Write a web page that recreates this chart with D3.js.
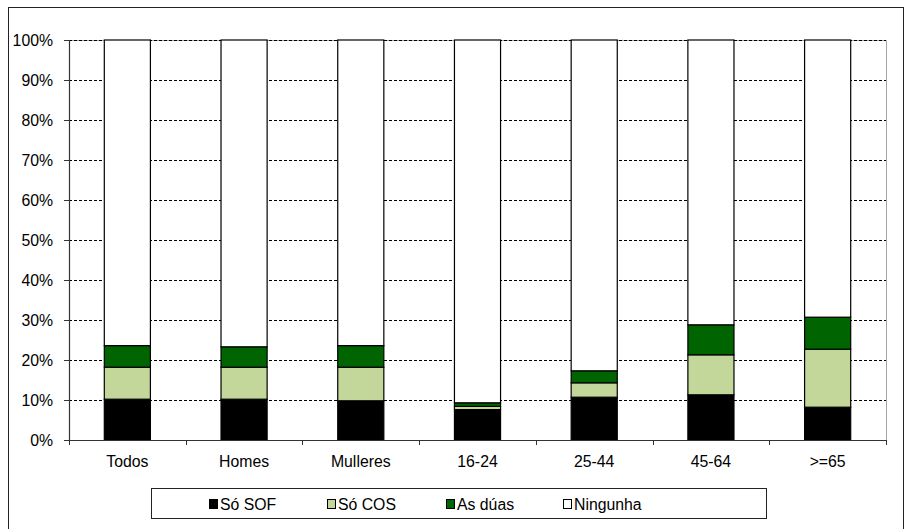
<!DOCTYPE html>
<html>
<head>
<meta charset="utf-8">
<script src="https://cdn.jsdelivr.net/npm/d3@7"></script>
<style>
  html, body { margin: 0; padding: 0; background: #fff; }
  svg { display: block; }
  text { font-family: "Liberation Sans", Arial, sans-serif; fill: #000; }
</style>
</head>
<body>
<svg id="chart" width="906" height="529"></svg>
<script>
// Population groups along the x axis
const categories = ["Todos", "Homes", "Mulleres", "16-24", "25-44", "45-64", ">=65"];

// Shares (%) per group for each answer
const soSOF    = [10.2, 10.2, 9.8, 7.6, 10.7, 11.3, 8.2];
const soCOS    = [8.0, 8.0, 8.4, 0.8, 3.6, 10.0, 14.5];
const asDuas   = [5.4, 5.1, 5.4, 0.9, 3.0, 7.5, 8.0];
const ningunha = [76.4, 76.7, 76.4, 90.7, 82.7, 71.2, 69.3];

const seriesNames = ["Só SOF", "Só COS", "As dúas", "Ningunha"];
const seriesColors = ["#000000", "#c4d79b", "#006400", "#ffffff"];
const yTicks = [0, 10, 20, 30, 40, 50, 60, 70, 80, 90, 100];

const rows = categories.map((c, i) => ({
  cat: c,
  "Só SOF": soSOF[i],
  "Só COS": soCOS[i],
  "As dúas": asDuas[i],
  "Ningunha": ningunha[i]
}));

const svg = d3.select("#chart");
const plot = { left: 69, top: 40, right: 886, bottom: 440 };

// Outer frame
svg.append("rect")
  .attr("x", 8.5).attr("y", 7.5)
  .attr("width", 895).attr("height", 540)
  .attr("fill", "none").attr("stroke", "#222").attr("stroke-width", 1);

const x = d3.scaleBand()
  .domain(categories)
  .range([plot.left, plot.right])
  .paddingInner(0.605)
  .paddingOuter(0.3025);

const y = d3.scaleLinear().domain([0, 100]).range([plot.bottom, plot.top]);

// Plot area border (top and right)
svg.append("path")
  .attr("d", `M${plot.left},${plot.top + 0.5}H${plot.right + 0.5}V${plot.bottom}`)
  .attr("fill", "none").attr("stroke", "#a6a6a6").attr("stroke-width", 1);

// Dashed gridlines
svg.append("g")
  .selectAll("line")
  .data(yTicks.filter(t => t > 0))
  .join("line")
  .attr("x1", plot.left).attr("x2", plot.right)
  .attr("y1", d => Math.round(y(d)) + 0.5).attr("y2", d => Math.round(y(d)) + 0.5)
  .attr("stroke", "#000").attr("stroke-width", 1)
  .attr("stroke-dasharray", "3,2");

// Stacked bars
const stack = d3.stack().keys(seriesNames);
const layers = stack(rows);

svg.append("g")
  .selectAll("g")
  .data(layers)
  .join("g")
  .attr("fill", (d, i) => seriesColors[i])
  .selectAll("rect")
  .data(d => d)
  .join("rect")
  .attr("x", d => x(d.data.cat))
  .attr("width", x.bandwidth())
  .attr("y", d => y(d[1]))
  .attr("height", d => y(d[0]) - y(d[1]))
  .attr("stroke", "#000")
  .attr("stroke-width", 1.2);

// Y axis
const yAxis = d3.axisLeft(y)
  .tickValues(yTicks)
  .tickFormat(d => d + "%")
  .tickSize(5)
  .tickPadding(11);

const gy = svg.append("g")
  .attr("transform", `translate(${plot.left},0)`)
  .call(yAxis);
gy.select(".domain").attr("stroke", "#333").attr("stroke-width", 1.2);
gy.selectAll(".tick line").attr("stroke", "#333");
gy.selectAll(".tick text")
  .style("font-size", "15.8px")
  .attr("dy", "0.36em");

// X axis: ticks between categories
const gx = svg.append("g")
  .attr("transform", `translate(0,${plot.bottom})`);
gx.append("line")
  .attr("x1", plot.left).attr("x2", plot.right + 0.5)
  .attr("y1", 0.5).attr("y2", 0.5)
  .attr("stroke", "#333").attr("stroke-width", 1.2);
const step = x.step();
const boundaries = d3.range(categories.length + 1).map(i => plot.left + i * (plot.right - plot.left) / categories.length);
gx.selectAll(".xt")
  .data(boundaries)
  .join("line")
  .attr("class", "xt")
  .attr("x1", d => Math.round(d) + 0.5).attr("x2", d => Math.round(d) + 0.5)
  .attr("y1", 0).attr("y2", 5)
  .attr("stroke", "#333");
gx.selectAll(".xl")
  .data(categories)
  .join("text")
  .attr("class", "xl")
  .attr("x", d => x(d) + x.bandwidth() / 2)
  .attr("y", 26.5)
  .attr("text-anchor", "middle")
  .style("font-size", "15.8px")
  .text(d => d);

// Legend
const legend = svg.append("g");
legend.append("rect")
  .attr("x", 151.5).attr("y", 488.5)
  .attr("width", 615).attr("height", 30)
  .attr("fill", "#fff").attr("stroke", "#222").attr("stroke-width", 1);

const legendX = [209, 327, 446, 563];
const items = legend.selectAll(".li")
  .data(seriesNames)
  .join("g")
  .attr("class", "li")
  .attr("transform", (d, i) => `translate(${legendX[i]},0)`);
items.append("rect")
  .attr("x", 0.5).attr("y", 499.5)
  .attr("width", 8).attr("height", 9)
  .attr("fill", (d, i) => seriesColors[i])
  .attr("stroke", "#000").attr("stroke-width", 1);
items.append("text")
  .attr("x", 11).attr("y", 509.5)
  .style("font-size", "15.8px")
  .text(d => d);
</script>
</body>
</html>
